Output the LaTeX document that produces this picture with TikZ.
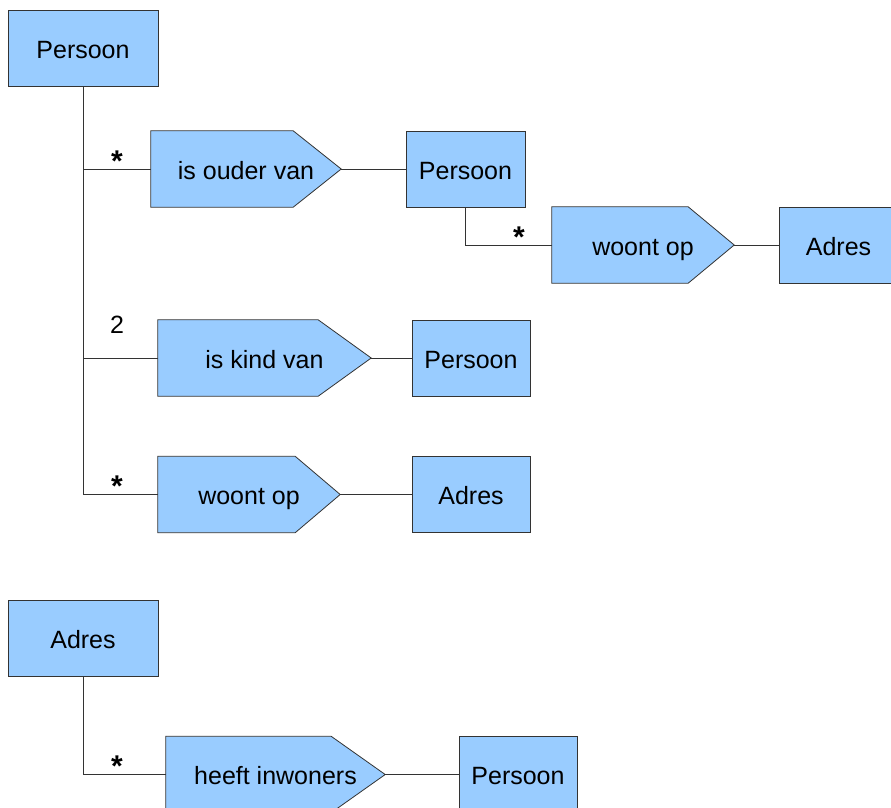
\documentclass[tikz,border=0pt]{standalone}
\usepackage{fontspec}
\setmainfont{Liberation Sans}
\usetikzlibrary{backgrounds}
\definecolor{boxblue}{RGB}{153,204,255}
\definecolor{boxline}{RGB}{51,51,51}

\begin{document}
\begin{tikzpicture}[x=1pt,y=-1pt]
\tikzset{entity/.style = {shape=rectangle,draw=boxline,fill=boxblue,minimum height=76pt,inner sep=0pt,text height=20pt,text depth=0pt,font=\fontsize{25}{30}\selectfont}}
\tikzset{relation/.style = {shape=rectangle,minimum height=76pt,inner sep=0pt,text height=20pt,text depth=0pt,font=\fontsize{25}{30}\selectfont}}
\tikzset{relshape/.style = {draw=boxline,fill=boxblue,line width=0.8pt}}
\tikzset{link/.style = {draw=boxline,line width=1pt}}
\tikzset{mult/.style = {font=\bfseries\fontsize{30}{30}\selectfont,anchor=base,inner sep=0pt}}
\useasboundingbox (0,0) rectangle (891,807);
% persoon tree
\node[entity, minimum width=150pt] (e_0) at (83,48.5) {Persoon};
\node[relation, minimum width=190pt] (r_1) at (246,169) {is ouder van};
\node[entity, minimum width=119pt] (e_1) at (465.5,169) {Persoon};
\node[relation, minimum width=182pt] (r_2) at (643,245) {woont op};
\node[entity, minimum width=119pt] (e_2) at (838.5,245) {Adres};
\node[relation, minimum width=213pt] (r_3) at (264.5,358) {is kind van};
\node[entity, minimum width=118pt] (e_3) at (471,358) {Persoon};
\node[relation, minimum width=182pt] (r_4) at (249,494.5) {woont op};
\node[entity, minimum width=118pt] (e_4) at (471,494.5) {Adres};
% adres tree
\node[entity, minimum width=150pt] (e_5) at (83,638.5) {Adres};
\node[relation, minimum width=219pt] (r_5) at (275.5,774.5) {heeft inwoners};
\node[entity, minimum width=118pt] (e_6) at (518,774.5) {Persoon};
% pointed boxes behind the relation names
\begin{pgfonlayer}{background}
\foreach \r/\d in {r_1/48, r_2/46, r_3/53, r_4/45, r_5/54}
  \filldraw[relshape] (\r.north west) -- ([xshift=-\d pt]\r.north east) -- (\r.east)
    -- ([xshift=-\d pt]\r.south east) -- (\r.south west) -- cycle;
\end{pgfonlayer}
\draw[link] (e_0) |- node[mult, pos=.75, yshift=-2pt] {*} (r_1.west);
\draw[link] (e_0) |- node[pos=.727, anchor=base, yshift=25pt, inner sep=0pt, font=\fontsize{25}{30}\selectfont] {2} (r_3.west);
\draw[link] (e_0) |- node[mult, pos=.727, yshift=-2pt] {*} (r_4.west);
\draw[link] (e_1) |- node[mult, pos=.81, yshift=-2pt] {*} (r_2.west);
\draw[link] (e_5) |- node[mult, pos=.705, yshift=-2pt] {*} (r_5.west);
\draw[link] (r_1.east) -- (e_1);
\draw[link] (r_2.east) -- (e_2);
\draw[link] (r_3.east) -- (e_3);
\draw[link] (r_4.east) -- (e_4);
\draw[link] (r_5.east) -- (e_6);
\end{tikzpicture}
\end{document}
